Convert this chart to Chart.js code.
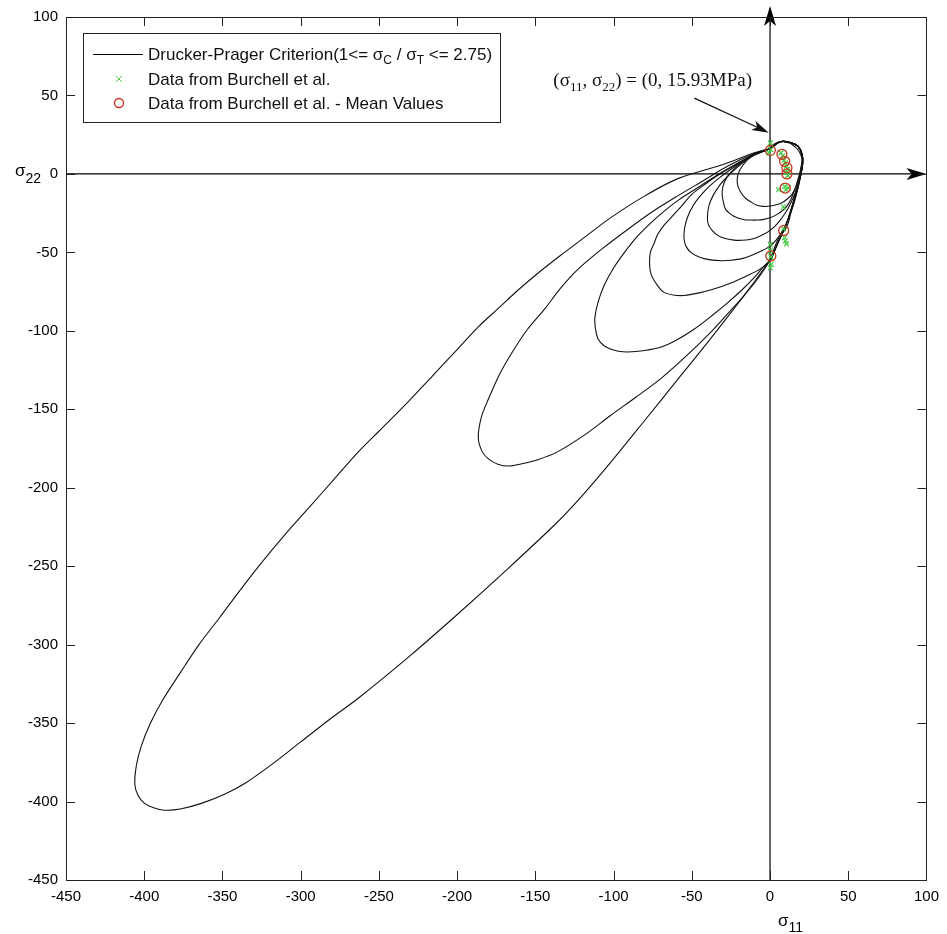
<!DOCTYPE html>
<html>
<head>
<meta charset="utf-8">
<script src="https://cdn.jsdelivr.net/npm/chart.js@4.4.0/dist/chart.umd.min.js"></script>
<style>
  html, body { margin: 0; padding: 0; background: #fff; }
  #wrap { position: relative; width: 947px; height: 934px; }
</style>
</head>
<body>
<div id="wrap"><canvas id="myChart"></canvas></div>
<script>
// axis range / ticks
var axisMin = -450;
var axisMax = 100;
var tickStep = 50;
var arrowTopY = 107;   // tip of the vertical sigma_22 arrow

// Drucker-Prager envelopes, one per sigma_C / sigma_T ratio
var ratios = [1, 1.25, 1.5, 1.75, 2, 2.25, 2.5, 2.75];

var dp100x = [0, -5, -10.4, -14.5, -17.8, -20.2, -21, -20.5, -18.5, -15.7, -12, -8.3, -4, 0.2, 4, 7.6, 11, 14, 16, 17.2, 18.5, 19.5, 20.4, 20, 18.2, 15.5, 12.9, 9.5, 6.6, 3, 0];
var dp100y = [16, 14.8, 12.5, 9, 4.9, 0.5, -3.6, -8, -12, -15.5, -18, -20, -20.7, -20.5, -19.7, -18.4, -16, -13, -9.5, -5.7, -1.5, 2.8, 8, 11.2, 15, 17.6, 19.5, 20.4, 20.7, 19.2, 16];

var dp125x = [0, -8, -15, -21, -25.5, -28.4, -30.2, -30.6, -29.8, -28.4, -25, -21, -16.5, -12.5, -8, -4, 0, 4.5, 8, 10.8, 13.2, 15, 16.8, 18.2, 19.5, 20.5, 20.6, 18, 13, 6.5, 0];
var dp125y = [16, 13.5, 9.5, 5, 0.5, -3.6, -8.5, -13, -18, -22.6, -25.8, -28, -29.2, -29.4, -29.4, -29, -28, -25.8, -23.3, -20.5, -16.5, -12, -7.5, -3, 2, 7, 12, 17.5, 20, 20.5, 16];

var dp150x = [0, -10, -20, -27, -32, -36.5, -39, -40, -39.5, -37, -33, -28, -23, -18, -13, -8, -4, 0, 3.5, 6.5, 9, 11.5, 13.5, 15.5, 17.2, 18.7, 19.8, 20.8, 20.6, 18, 13, 6.5, 0];
var dp150y = [16, 12, 5, -1.5, -7, -14, -20, -27, -32, -36, -39.5, -41.3, -42.2, -42.3, -41.8, -40.3, -38.5, -36, -33, -29.5, -26, -22, -18, -13.5, -9, -4.5, 0.5, 6, 12, 17.5, 20, 20.5, 16];

var dp175x = [0, -12, -25, -33, -40, -45, -49, -52.5, -54.5, -55, -53.5, -50, -44, -38, -31, -25, -18, -12, -6, 0, 4, 7.5, 10.5, 13, 15.2, 17, 18.5, 19.6, 20.8, 20.6, 18, 13, 6.5, 0];
var dp175y = [16, 11.5, 3, -3, -9, -14.5, -20, -27, -34, -41, -46.5, -50.5, -53.5, -54.8, -55.3, -55, -54, -52, -49.3, -46, -42, -37, -31.5, -25.5, -19, -12.5, -6.5, -1, 6, 12, 17.5, 20, 20.5, 16];

var dp200x = [0, -10, -25, -35, -42, -50, -57, -63, -68, -72, -74, -76.5, -77, -76, -72, -67.7, -61, -55, -46, -36, -25, -15, -7, 0, 2.5, 5, 10, 14, 17, 19.3, 20.8, 20.6, 18, 13, 6.5, 0];
var dp200y = [16, 12, 4, -2, -7, -13, -21, -27.5, -33, -39, -44, -50, -57, -64, -71, -75.5, -77.3, -77.5, -76, -73.4, -69.5, -65, -61, -55.5, -50, -44, -33, -21, -10, -2, 6, 12, 17.5, 20, 20.5, 16];

var dp225x = [0, -10, -30, -45, -59, -68, -76, -85, -93, -100, -106, -110, -112, -111.5, -110, -106, -101.6, -97, -91, -80, -70, -60, -48.6, -38, -27, -18, -10, -4, 0, 2.5, 5, 10, 14, 17, 19.3, 20.8, 20.6, 18, 13, 6.5, 0];
var dp225y = [16, 12.5, 1.5, -8, -17, -24, -31, -40, -50, -60, -71, -82, -92, -99, -105, -109.5, -111.8, -113, -113.5, -112.5, -110.5, -106, -99, -91, -82, -74, -66, -59, -55, -50, -44, -33, -21, -10, -2, 6, 12, 17.5, 20, 20.5, 16];

var dp250x = [0, -10, -27, -43, -59, -75, -91, -107, -123, -134, -144, -155, -165, -173, -180, -184.5, -186.5, -184, -180, -174, -167, -160, -148, -135.6, -118, -102, -86, -70, -54, -38, -27, -17, -8, 0, 2.5, 5, 10, 14, 17, 19.3, 20.8, 20.6, 18, 13, 6.5, 0];
var dp250y = [16, 13, 5, -4.5, -14, -24, -35.4, -47.5, -61, -73, -86, -99, -114, -128, -143.5, -155, -168, -177, -181.6, -185, -186.2, -185, -182, -177, -166, -154, -142.5, -130.6, -116.5, -101, -89, -78, -67, -55, -50, -44, -33, -21, -10, -2, 6, 12, 17.5, 20, 20.5, 16];

var dp275x = [0, -10, -30, -59, -80, -102, -118, -134, -148, -161, -174, -186, -200, -216, -234, -250, -263, -279, -295, -311, -326, -340, -352, -365, -377, -388, -396, -402, -405, -406, -404, -400, -394, -387, -377, -363, -348, -335, -318, -300, -282, -263, -230, -199, -168, -136, -120, -102, -80, -59, -38, -27, -17, -8, 0, 2.5, 5, 11, 14, 17, 19.3, 20.8, 20.6, 18, 13, 6.5, 0];
var dp275y = [16, 13.5, 6, -3, -14, -28, -40, -52, -63, -74, -86, -97, -112, -129, -148, -164, -177, -195, -213, -231, -249, -267, -283, -300, -318, -335, -350, -365, -377, -389, -396, -401, -404, -405.5, -404.8, -401, -395, -388, -376, -362, -348, -334, -307, -280, -252, -222, -205, -184, -157, -131, -105, -91, -78, -66, -54.5, -48, -42, -33, -22, -12, -2, 6, 12, 17.5, 20, 20.5, 16];

// Burchell et al. measurements
var burchellX = [0.2, -0.8, 0.5, 7, 8.2, 9, 9.8, 10.5, 11.2, 10.4, 11.3, 9.4, 10.1, 5.5, 11.9, 8.5, 8.7, 9.3, 9.8, 10.5, 0.2, 0.6, 0.2, 0.8, 0.2];
var burchellY = [19.7, 13.3, 15.5, 13.5, 11.5, 8.8, 7, 5, 3, 1, -1, -8, -10, -10, -8.9, -21, -35, -40.6, -42.7, -44.5, -45, -53, -49, -57.6, -59.7];

// Burchell et al. mean values
var meanX = [0.2, 7.6, 9.3, 10.8, 10.8, 9.7, 8.7, 0.5];
var meanY = [15, 12.5, 8, 4, 0, -9, -36, -52.3];

var curvesX = [dp100x, dp125x, dp150x, dp175x, dp200x, dp225x, dp250x, dp275x];
var curvesY = [dp100y, dp125y, dp150y, dp175y, dp200y, dp225y, dp250y, dp275y];

var SANS = '"Liberation Sans", Arial, sans-serif';
var SERIF = '"Liberation Serif", "Times New Roman", serif';

function toPoints(xs, ys) {
  return xs.map(function (x, i) { return { x: x, y: ys[i] }; });
}

// draws a list of text pieces (for subscripts), returns total width
function drawRich(ctx, parts, x, y, align) {
  var total = 0;
  parts.forEach(function (p) {
    ctx.font = p.font;
    p.w = ctx.measureText(p.text).width;
    total += p.w;
  });
  var cx = align === 'right' ? x - total : x;
  parts.forEach(function (p) {
    ctx.font = p.font;
    ctx.fillText(p.text, cx, y + (p.dy || 0));
    cx += p.w;
  });
  return total;
}

function drawArrow(ctx, x1, y1, x2, y2, len, half) {
  var a = Math.atan2(y2 - y1, x2 - x1);
  var dx = Math.cos(a), dy = Math.sin(a);
  var bx = x2 - len * dx, by = y2 - len * dy;
  var nx = x2 - 0.75 * len * dx, ny = y2 - 0.75 * len * dy;
  ctx.beginPath();
  ctx.moveTo(x1, y1);
  ctx.lineTo(nx, ny);
  ctx.stroke();
  ctx.beginPath();
  ctx.moveTo(x2, y2);
  ctx.lineTo(bx - half * dy, by + half * dx);
  ctx.lineTo(nx, ny);
  ctx.lineTo(bx + half * dy, by - half * dx);
  ctx.closePath();
  ctx.fill();
}

var decorations = {
  id: 'decorations',
  beforeDatasetsDraw: function (chart) {
    var ctx = chart.ctx, xs = chart.scales.x, ys = chart.scales.y;
    ctx.save();
    ctx.strokeStyle = '#000';
    ctx.fillStyle = '#000';
    ctx.lineWidth = 1.2;
    // axes through the origin, with arrow heads
    drawArrow(ctx, xs.getPixelForValue(0), ys.getPixelForValue(axisMin),
      xs.getPixelForValue(0), ys.getPixelForValue(arrowTopY), 20, 6);
    drawArrow(ctx, xs.getPixelForValue(axisMin), ys.getPixelForValue(0),
      xs.getPixelForValue(axisMax), ys.getPixelForValue(0), 20, 6);
    ctx.restore();
  },
  afterDraw: function (chart) {
    var ctx = chart.ctx, xs = chart.scales.x, ys = chart.scales.y;
    var area = chart.chartArea;
    ctx.save();

    // box and inner ticks
    ctx.strokeStyle = '#222';
    ctx.lineWidth = 1;
    ctx.strokeRect(Math.round(area.left) + 0.5, Math.round(area.top) + 0.5,
      Math.round(area.right - area.left), Math.round(area.bottom - area.top));
    ctx.beginPath();
    for (var v = axisMin; v <= axisMax; v += tickStep) {
      var px = Math.round(xs.getPixelForValue(v)) + 0.5;
      ctx.moveTo(px, area.bottom); ctx.lineTo(px, area.bottom - 9);
      ctx.moveTo(px, area.top); ctx.lineTo(px, area.top + 9);
      var py = Math.round(ys.getPixelForValue(v)) + 0.5;
      ctx.moveTo(area.left, py); ctx.lineTo(area.left + 9, py);
      ctx.moveTo(area.right, py); ctx.lineTo(area.right - 9, py);
    }
    ctx.stroke();

    ctx.fillStyle = '#000';
    ctx.textAlign = 'left';
    ctx.textBaseline = 'alphabetic';

    // axis labels
    drawRich(ctx, [
      { text: 'σ', font: '17px ' + SANS },
      { text: '22', font: '14px ' + SANS, dy: 7 }
    ], 15, ys.getPixelForValue(0) + 2, 'left');
    drawRich(ctx, [
      { text: 'σ', font: '17px ' + SANS },
      { text: '11', font: '14px ' + SANS, dy: 6 }
    ], xs.getPixelForValue(0) + 8, 926, 'left');

    // annotation at the sigma_22 intercept
    ctx.fillStyle = '#111';
    drawRich(ctx, [
      { text: '(', font: '19px ' + SERIF },
      { text: 'σ', font: '19px ' + SERIF },
      { text: '11', font: '13px ' + SERIF, dy: 5 },
      { text: ', ', font: '19px ' + SERIF },
      { text: 'σ', font: '19px ' + SERIF },
      { text: '22', font: '13px ' + SERIF, dy: 5 },
      { text: ') = (0, 15.93MPa)', font: '19px ' + SERIF }
    ], xs.getPixelForValue(-11.5), ys.getPixelForValue(56), 'right');
    ctx.strokeStyle = '#111';
    ctx.lineWidth = 1.2;
    drawArrow(ctx, xs.getPixelForValue(-48.4), ys.getPixelForValue(48.3),
      xs.getPixelForValue(-0.8), ys.getPixelForValue(26.3), 17, 5);

    // legend box
    var lx = area.left + 17, ly = area.top + 16;
    var rowY = [ly + 21, ly + 46, ly + 70];
    var tx = lx + 65;
    var f = '17px ' + SANS, fs = '12px ' + SANS;
    var row1 = [
      { text: 'Drucker-Prager Criterion(1<= ', font: f },
      { text: 'σ', font: f },
      { text: 'C', font: fs, dy: 4 },
      { text: ' / ', font: f },
      { text: 'σ', font: f },
      { text: 'T', font: fs, dy: 4 },
      { text: ' <= 2.75)', font: f }
    ];
    ctx.fillStyle = '#fff';
    var w1 = 0;
    row1.forEach(function (p) { ctx.font = p.font; w1 += ctx.measureText(p.text).width; });
    var boxW = tx - lx + w1 + 8;
    ctx.fillRect(lx, ly, boxW, 89);
    ctx.strokeStyle = '#222';
    ctx.lineWidth = 1;
    ctx.strokeRect(Math.round(lx) + 0.5, Math.round(ly) + 0.5, Math.round(boxW), 89);

    ctx.fillStyle = '#111';
    drawRich(ctx, row1, tx, rowY[0] + 6, 'left');
    ctx.font = f;
    ctx.fillText('Data from Burchell et al.', tx, rowY[1] + 6);
    ctx.fillText('Data from Burchell et al. - Mean Values', tx, rowY[2] + 6);

    // legend samples
    ctx.strokeStyle = '#000';
    ctx.lineWidth = 1;
    ctx.beginPath();
    ctx.moveTo(lx + 10, Math.round(rowY[0]) + 0.5);
    ctx.lineTo(lx + 60, Math.round(rowY[0]) + 0.5);
    ctx.stroke();
    var mx = lx + 36;
    ctx.strokeStyle = '#55cc55';
    ctx.beginPath();
    ctx.moveTo(mx - 3, rowY[1] - 3); ctx.lineTo(mx + 3, rowY[1] + 3);
    ctx.moveTo(mx - 3, rowY[1] + 3); ctx.lineTo(mx + 3, rowY[1] - 3);
    ctx.stroke();
    ctx.strokeStyle = '#cc2a1a';
    ctx.lineWidth = 1.3;
    ctx.beginPath();
    ctx.arc(mx, rowY[2], 4.5, 0, Math.PI * 2);
    ctx.stroke();

    ctx.restore();
  }
};

var datasets = [];
curvesX.forEach(function (xs, i) {
  datasets.push({
    label: i === 0 ? 'Drucker-Prager Criterion' : 'ratio ' + ratios[i],
    data: toPoints(xs, curvesY[i]),
    showLine: true,
    tension: 0.3,
    borderColor: '#111',
    borderWidth: 1.1,
    pointRadius: 0,
    fill: false,
    order: 3
  });
});
datasets.push({
  label: 'Data from Burchell et al.',
  data: toPoints(burchellX, burchellY),
  pointStyle: 'crossRot',
  pointRadius: 3.5,
  borderColor: '#44cc44',
  borderWidth: 1.2,
  showLine: false,
  order: 2
});
datasets.push({
  label: 'Data from Burchell et al. - Mean Values',
  data: toPoints(meanX, meanY),
  pointStyle: 'circle',
  pointRadius: 5,
  borderColor: '#c0361e',
  backgroundColor: 'rgba(0,0,0,0)',
  borderWidth: 1.3,
  showLine: false,
  order: 1
});

var tickFont = { family: 'Liberation Sans', size: 15 };

var ctx = document.getElementById('myChart').getContext('2d');
var myChart = new Chart(ctx, {
  type: 'scatter',
  data: { datasets: datasets },
  options: {
    responsive: true,
    maintainAspectRatio: false,
    animation: false,
    layout: { padding: { top: 13, right: 17, left: 0, bottom: 0 } },
    plugins: {
      legend: { display: false },
      tooltip: { enabled: false }
    },
    scales: {
      x: {
        type: 'linear',
        min: axisMin,
        max: axisMax,
        afterFit: function (s) { s.height = 54; },
        grid: { display: false, drawTicks: false },
        border: { display: false },
        ticks: { stepSize: tickStep, autoSkip: false, maxRotation: 0, padding: 8, color: '#000', font: tickFont }
      },
      y: {
        type: 'linear',
        min: axisMin,
        max: axisMax,
        afterFit: function (s) { s.width = 66; },
        grid: { display: false, drawTicks: false },
        border: { display: false },
        ticks: { stepSize: tickStep, autoSkip: false, padding: 8, color: '#000', font: tickFont }
      }
    }
  },
  plugins: [decorations]
});
</script>
</body>
</html>
